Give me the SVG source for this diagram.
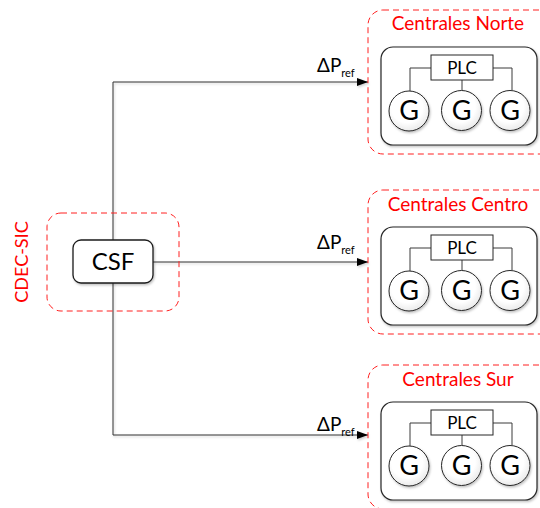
<svg xmlns="http://www.w3.org/2000/svg" width="540" height="508" viewBox="0 0 540 508">
  <defs>
    <style>
      .zone { fill: none; stroke: #ff2020; stroke-width: 1; stroke-dasharray: 6 4; }
      .zone-label { font-family: Lato, "Liberation Sans", sans-serif; font-size: 19px; fill: #ff0000; text-anchor: middle; }
      .panel { fill: #ffffff; stroke: #262626; stroke-width: 1.2; filter: url(#shadow); }
      .plc { fill: #ffffff; stroke: #262626; stroke-width: 1; }
      .plc-text { font-family: Lato, "Liberation Sans", sans-serif; font-size: 17px; fill: #000; text-anchor: middle; }
      .gen { fill: url(#genFill); stroke: #262626; stroke-width: 1; filter: url(#shadow); }
      .gen-text { font-family: Lato, "Liberation Sans", sans-serif; font-size: 27px; fill: #000; text-anchor: middle; }
      .wire { fill: none; stroke: #3a3a3a; stroke-width: 1; }
      .link { fill: none; stroke: #333333; stroke-width: 1; filter: url(#lineShadow); }
      .delta { font-family: Lato, "Liberation Sans", sans-serif; font-size: 19px; fill: #000; }
      .delta-sub { font-size: 11px; }
      .csf { fill: #ffffff; stroke: #1a1a1a; stroke-width: 1.3; filter: url(#shadow); }
      .csf-text { font-family: Lato, "Liberation Sans", sans-serif; font-size: 24px; fill: #000; text-anchor: middle; }
    </style>
    <filter id="shadow" x="-10%" y="-10%" width="130%" height="140%">
      <feDropShadow dx="1" dy="1.5" stdDeviation="1" flood-color="#000" flood-opacity="0.25"/>
    </filter>
    <filter id="lineShadow" filterUnits="userSpaceOnUse" x="0" y="0" width="540" height="508">
      <feDropShadow dx="1" dy="1.5" stdDeviation="0.8" flood-color="#000" flood-opacity="0.2"/>
    </filter>
    <radialGradient id="genFill" cx="0.45" cy="0.4" r="0.65">
      <stop offset="0.6" stop-color="#ffffff"/>
      <stop offset="1" stop-color="#e6e6e6"/>
    </radialGradient>
    <marker id="arrow" markerWidth="11" markerHeight="8" refX="11" refY="4" orient="auto" markerUnits="userSpaceOnUse">
      <path d="M0,0 L11,4 L0,8 Z" fill="#000"/>
    </marker>
    <!-- plant panel: PLC feeding three generators -->
    <g id="plant">
      <rect class="panel" x="381" y="47" width="156" height="98" rx="12"/>
      <path class="wire" d="M431,68 H410 V91"/>
      <path class="wire" d="M462,80 V90"/>
      <path class="wire" d="M493,68 H512 V90"/>
      <rect class="plc" x="431" y="55" width="62" height="25"/>
      <text class="plc-text" x="462" y="74">PLC</text>
      <circle class="gen" cx="409" cy="111" r="20"/>
      <circle class="gen" cx="461.5" cy="110.5" r="20"/>
      <circle class="gen" cx="510" cy="110.5" r="20"/>
      <text class="gen-text" x="409" y="120">G</text>
      <text class="gen-text" x="461.5" y="120">G</text>
      <text class="gen-text" x="510" y="120">G</text>
    </g>
  </defs>

  <!-- control links from CSF -->
  <g id="connectors">
    <path class="link" d="M113,82 V435"/>
    <path class="link" d="M113,82 H368" marker-end="url(#arrow)"/>
    <path class="link" d="M153,262 H368" marker-end="url(#arrow)"/>
    <path class="link" d="M113,435 H368" marker-end="url(#arrow)"/>
    <text class="delta" x="317" y="72">ΔP<tspan class="delta-sub" dy="5">ref</tspan></text>
    <text class="delta" x="317" y="249">ΔP<tspan class="delta-sub" dy="5">ref</tspan></text>
    <text class="delta" x="317" y="431">ΔP<tspan class="delta-sub" dy="5">ref</tspan></text>
  </g>

  <!-- dispatch centre -->
  <g id="cdec-sic">
    <rect class="zone" x="47" y="213" width="132" height="98" rx="14"/>
    <text class="zone-label" transform="translate(28,262) rotate(-90)" x="0" y="0" style="font-size:18px">CDEC-SIC</text>
  </g>
  <g id="csf">
    <rect class="csf" x="73" y="240" width="80" height="43" rx="8"/>
    <text class="csf-text" x="113" y="270">CSF</text>
  </g>

  <!-- generating zones -->
  <g id="centrales-norte">
    <rect class="zone" x="368" y="10" width="190" height="144" rx="15"/>
    <text class="zone-label" x="458" y="30">Centrales Norte</text>
    <use href="#plant"/>
  </g>
  <g id="centrales-centro">
    <rect class="zone" x="368" y="190" width="190" height="144" rx="15"/>
    <text class="zone-label" x="458" y="211">Centrales Centro</text>
    <use href="#plant" y="180"/>
  </g>
  <g id="centrales-sur">
    <rect class="zone" x="368" y="365" width="190" height="144" rx="15"/>
    <text class="zone-label" x="458" y="386">Centrales Sur</text>
    <use href="#plant" y="355"/>
  </g>
</svg>
